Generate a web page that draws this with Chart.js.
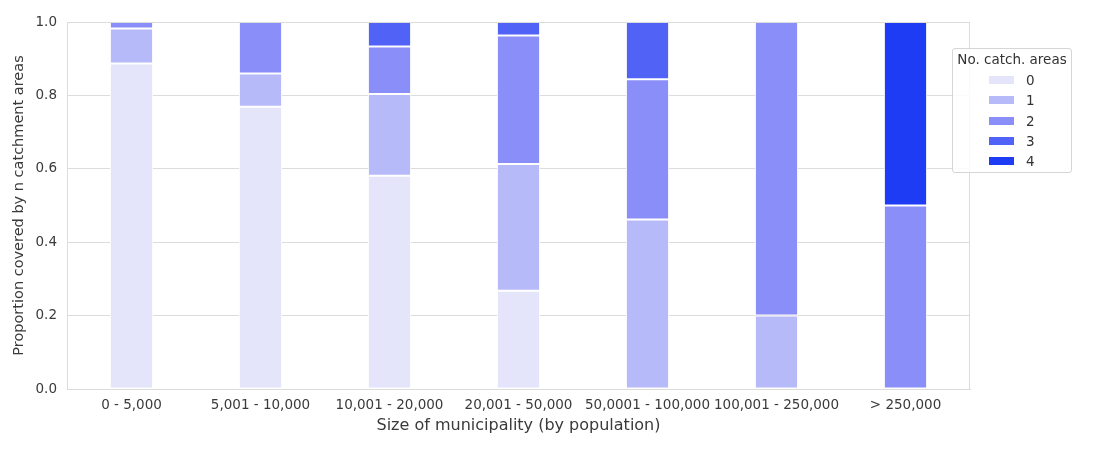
<!DOCTYPE html>
<html>
<head>
<meta charset="utf-8">
<script src="https://cdn.jsdelivr.net/npm/chart.js@4/dist/chart.umd.min.js"></script>
<style>
  html, body { margin: 0; padding: 0; background: #fff; }
  #wrap { position: relative; width: 1100px; height: 453px; }
  #legend {
    position: absolute; left: 952px; top: 48px; width: 120px; height: 125px;
    border: 1px solid #d6d6d6; border-radius: 3px; background: rgba(255,255,255,0.85);
    font-family: "DejaVu Sans", sans-serif; color: #333; box-sizing: border-box;
  }
  #legend .title { position: absolute; left: 0; width: 100%; top: 2px; text-align: center; font-size: 13.5px; white-space: nowrap; }
  #legend .row { position: absolute; left: 36px; height: 16px; font-size: 13.5px; line-height: 16px; }
  #legend .sw { position: absolute; left: 0; top: 4px; width: 25px; height: 8px; }
  #legend .lb { position: absolute; left: 37px; top: 0; }
</style>
</head>
<body>
<div id="wrap">
  <canvas id="c" width="1100" height="453"></canvas>
  <div id="legend"></div>
</div>
<script>
const categories = ["0 - 5,000", "5,001 - 10,000", "10,001 - 20,000", "20,001 - 50,000", "50,0001 - 100,000", "100,001 - 250,000", "> 250,000"];
const seriesNames = ["0", "1", "2", "3", "4"];
const areas0 = [0.887, 0.769, 0.581, 0.268, 0, 0, 0];
const areas1 = [0.095, 0.091, 0.223, 0.345, 0.462, 0.200, 0];
const areas2 = [0.018, 0.140, 0.129, 0.350, 0.382, 0.800, 0.500];
const areas3 = [0, 0, 0.067, 0.037, 0.156, 0, 0];
const areas4 = [0, 0, 0, 0, 0, 0, 0.500];
const yTicks = [0, 0.2, 0.4, 0.6, 0.8, 1.0];
const colors = ["#e4e4fa", "#b7baf9", "#8a8ef8", "#5162f6", "#1f3cf5"];

const seriesValues = [areas0, areas1, areas2, areas3, areas4];
const datasets = seriesValues.map((vals, i) => ({
  label: seriesNames[i],
  data: vals,
  backgroundColor: colors[i],
  borderColor: "#ffffff",
  borderWidth: 1,
  borderSkipped: false,
  barPercentage: 0.335,
  categoryPercentage: 1.0
}));

const FONT = "'DejaVu Sans', sans-serif";
new Chart(document.getElementById("c"), {
  type: "bar",
  data: { labels: categories, datasets },
  options: {
    responsive: false,
    animation: false,
    layout: { padding: { top: 22, right: 130, left: 0, bottom: 0 } },
    plugins: { legend: { display: false }, tooltip: { enabled: false } },
    scales: {
      x: {
        stacked: true,
        grid: { display: false, drawTicks: false },
        border: { display: true, color: "#dcdcdc", width: 1 },
        ticks: { color: "#3a3a3a", font: { family: FONT, size: 13.5 }, padding: 8, maxRotation: 0, autoSkip: false },
        title: { display: true, text: "Size of municipality (by population)", color: "#3a3a3a", font: { family: FONT, size: 16 }, padding: { top: 2, bottom: 18 } },
        afterFit: s => { s.height = 64; }
      },
      y: {
        stacked: true,
        min: 0, max: 1,
        afterBuildTicks: s => { s.ticks = yTicks.map(v => ({ value: v })); },
        grid: { color: "#dcdcdc", lineWidth: 1, drawTicks: false },
        border: { display: true, color: "#dcdcdc", width: 1 },
        ticks: { color: "#3a3a3a", font: { family: FONT, size: 13.5 }, padding: 10, callback: v => Number(v).toFixed(1) },
        title: { display: true, text: "Proportion covered by n catchment areas", color: "#3a3a3a", font: { family: FONT, size: 14.5 }, padding: { top: 11, bottom: 4 } },
        afterFit: s => { s.width = 67; }
      }
    }
  },
  plugins: [{
    id: "frame",
    afterDraw(chart) {
      const { ctx, chartArea: a } = chart;
      ctx.save();
      ctx.strokeStyle = "#dcdcdc";
      ctx.lineWidth = 1;
      ctx.strokeRect(a.left + 0.5, a.top + 0.5, a.right - a.left - 1, a.bottom - a.top);
      ctx.restore();
    }
  }]
});

const lg = document.getElementById("legend");
let html = '<div class="title">No. catch. areas</div>';
seriesNames.forEach((n, i) => {
  html += '<div class="row" style="top:' + (23 + i * 20.3) + 'px"><span class="sw" style="background:' + colors[i] + '"></span><span class="lb">' + n + '</span></div>';
});
lg.innerHTML = html;
</script>
</body>
</html>
